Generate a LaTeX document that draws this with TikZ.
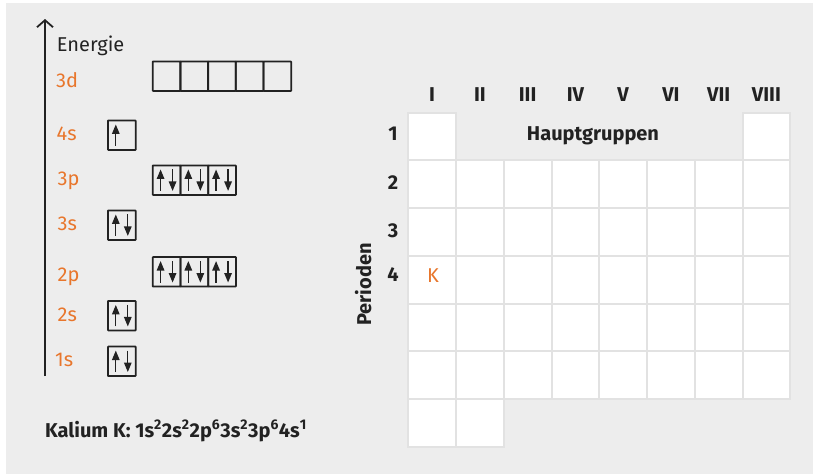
\documentclass[tikz,border=0pt]{standalone}
\usepackage{fontspec}
\setmainfont{Fira Sans}
\usetikzlibrary{arrows.meta}
\definecolor{bg}{HTML}{EDEDED}
\definecolor{ink}{HTML}{222222}
\definecolor{orng}{HTML}{E8762C}
\definecolor{cellline}{HTML}{E2E2E2}
\tikzset{
  lbl/.style={anchor=base west, inner sep=0pt, text=ink, font=\fontsize{20}{24}\selectfont},
  orb/.style={anchor=base west, inner sep=0pt, text=orng, font=\fontsize{20}{24}\selectfont},
  hdr/.style={anchor=base, inner sep=0pt, text=ink, font=\fontsize{20}{24}\selectfont\bfseries},
  obox/.style={draw=ink, line width=1.8pt, rounded corners=0.6pt, minimum width=27.75pt, minimum height=29.5pt, inner sep=0pt, outer sep=0pt},
  spinup/.style={draw=ink, line width=1.3pt, -{Triangle[length=9.5pt,width=7.5pt]}},
  cell/.style={fill=white, draw=cellline, line width=2pt},
}
\newcommand{\pair}[1]{%
  \draw[spinup] ([shift={(-6pt,4pt)}]#1.south) -- ([shift={(-6pt,-4pt)}]#1.north);
  \draw[spinup] ([shift={(6pt,-4pt)}]#1.north) -- ([shift={(6pt,4pt)}]#1.south);}
\begin{document}
\begin{tikzpicture}[x=1pt,y=-1pt]
\useasboundingbox (0,0) rectangle (815,474);
\fill[bg] (6,3) rectangle (813,474);

% energy axis
\coordinate (axb) at (45,376);
\coordinate (axt) at (45,19);
\draw[ink, line width=1.8pt, -{Straight Barb[length=7pt,width=16pt]}] (axb) -- (axt);
\node[lbl] (energie) at (56.7,51) {Energie};

% orbital labels
\node[orb] (l3d) at (56,87.3) {3d};
\node[orb] (l4s) at (56.5,140) {4s};
\node[orb] (l3p) at (57.5,185.7) {3p};
\node[orb] (l3s) at (57.5,230) {3s};
\node[orb] (l2p) at (57.5,281.7) {2p};
\node[orb] (l2s) at (57.5,321.7) {2s};
\node[orb] (l1s) at (55,366.7) {1s};

% 3d boxes
\foreach \i in {1,...,5} {
  \node[obox] (d\i) at ({152.7+27.7*(\i-0.5)},76.2) {};
}
% s boxes
\node[obox] (s4) at (121.8,135.2) {};
\node[obox] (s3) at (121.8,225.2) {};
\node[obox] (s2) at (121.8,315.7) {};
\node[obox] (s1) at (121.8,361.3) {};
% p boxes
\foreach \i in {1,2,3} {
  \node[obox] (pc\i) at ({152.7+27.75*(\i-0.5)},180.2) {};
  \node[obox] (pb\i) at ({152.7+27.75*(\i-0.5)},271.8) {};
}
% spins
\draw[spinup] ([shift={(-6pt,4pt)}]s4.south) -- ([shift={(-6pt,-4pt)}]s4.north);
\pair{s3}\pair{s2}\pair{s1}
\pair{pc1}\pair{pc2}\pair{pc3}
\pair{pb1}\pair{pb2}\pair{pb3}

% configuration
\node[anchor=base west, inner sep=0pt, text=ink, font=\fontsize{20}{24}\selectfont\bfseries] (kal) at (45,437.3)
  {Kalium K: 1s\textsuperscript{2}2s\textsuperscript{2}2p\textsuperscript{6}3s\textsuperscript{2}3p\textsuperscript{6}4s\textsuperscript{1}};

% periodic grid
\def\px{47.75}
\def\xo{408.3}
\def\yo{112.7}
\foreach \c in {0,7} {
  \draw[cell] ({\xo+\c*\px},\yo) rectangle ++(\px,\px);
}
\foreach \r in {1,...,5} {
  \foreach \c in {0,...,7} {
    \draw[cell] ({\xo+\c*\px},{\yo+\r*\px}) rectangle ++(\px,\px);
  }
}
\foreach \c in {0,1} {
  \draw[cell] ({\xo+\c*\px},{\yo+6*\px}) rectangle ++(\px,\px);
}

% column headers
\foreach \t [count=\i from 0] in {I,II,III,IV,V,VI,VII,VIII} {
  \node[hdr] (g\i) at ({\xo+(\i+0.5)*\px},101) {\t};
}
% row headers
\node[hdr] (r1) at (393,140) {1};
\node[hdr] (r2) at (393,189.3) {2};
\node[hdr] (r3) at (393,237.7) {3};
\node[hdr] (r4) at (393,281.7) {4};

\node[hdr] (haupt) at (593,140) {Hauptgruppen};
\node[hdr, anchor=base west, rotate=90] (perioden) at (371,325.7) {Perioden};
\node[orb, anchor=base] (kel) at (433,282.3) {K};
\end{tikzpicture}
\end{document}
